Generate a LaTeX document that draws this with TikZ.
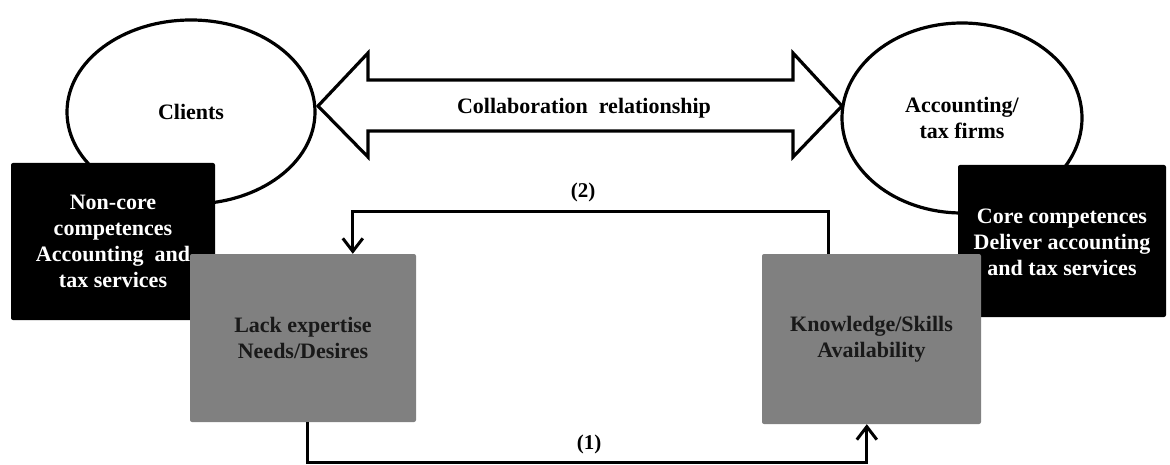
\documentclass[tikz,border=0pt]{standalone}
\usepackage{fontspec}
\setmainfont{Liberation Serif}
\usetikzlibrary{arrows.meta,shapes.geometric}
\begin{document}
\begin{tikzpicture}[x=1pt,y=-1pt,
  txt/.style={font=\fontsize{22}{26}\selectfont\bfseries, align=center},
  ell/.style={ellipse, draw, line width=3.2pt, fill=white, inner sep=0pt, txt},
  blackbox/.style={rectangle, rounded corners=2pt, fill=black, text=white, inner sep=0pt, txt},
  graybox/.style={rectangle, rounded corners=2pt, fill=gray, text=black!90, inner sep=0pt, txt},
  conn/.style={line width=3pt, -{Straight Barb[length=13pt,width=20pt,line width=3pt]}},
  lbl/.style={font=\fontsize{21}{24}\selectfont\bfseries}]
\useasboundingbox (0,0) rectangle (1170,465);
% ellipses
\node[ell, minimum width=248pt, minimum height=184pt] (clients) at (191,112) {Clients};
\node[ell, minimum width=240pt, minimum height=190pt] (firms) at (962,118) {Accounting/\\tax firms};
% block double arrow
\draw[line width=3.2pt, fill=white, line join=miter]
  (318,106) -- (368,53) -- (368,80) -- (793,80) -- (793,53) -- (842,106)
  -- (793,157) -- (793,131) -- (368,131) -- (368,157) -- cycle;
\node[txt] (collab) at (584,108) {Collaboration\ \ relationship};
% black boxes
\node[blackbox, minimum width=204pt, minimum height=157pt] (noncore) at (113,241.5)
  {Non-core\\competences\\Accounting\ \ and\\tax services};
\node[blackbox, minimum width=208pt, minimum height=152pt] (core) at (1062,241)
  {\\[-8pt]Core competences\\Deliver accounting\\and tax services};
% gray boxes
\node[graybox, minimum width=226pt, minimum height=168pt] (lack) at (303,338)
  {Lack expertise\\Needs/Desires};
\node[graybox, minimum width=219pt, minimum height=170pt] (know) at (871.5,339)
  {Knowledge/Skills\\Availability};
% connectors
\draw[conn] ([xshift=67pt]know.north west) -- ++(0,-42) -| ([xshift=163pt]lack.north west);
\draw[conn] ([xshift=118pt]lack.south west) -- ++(0,40) -| ([xshift=105pt]know.south west);
\node[lbl] (l2) at (583,192) {(2)};
\node[lbl] (l1) at (589,444) {(1)};
\end{tikzpicture}
\end{document}
